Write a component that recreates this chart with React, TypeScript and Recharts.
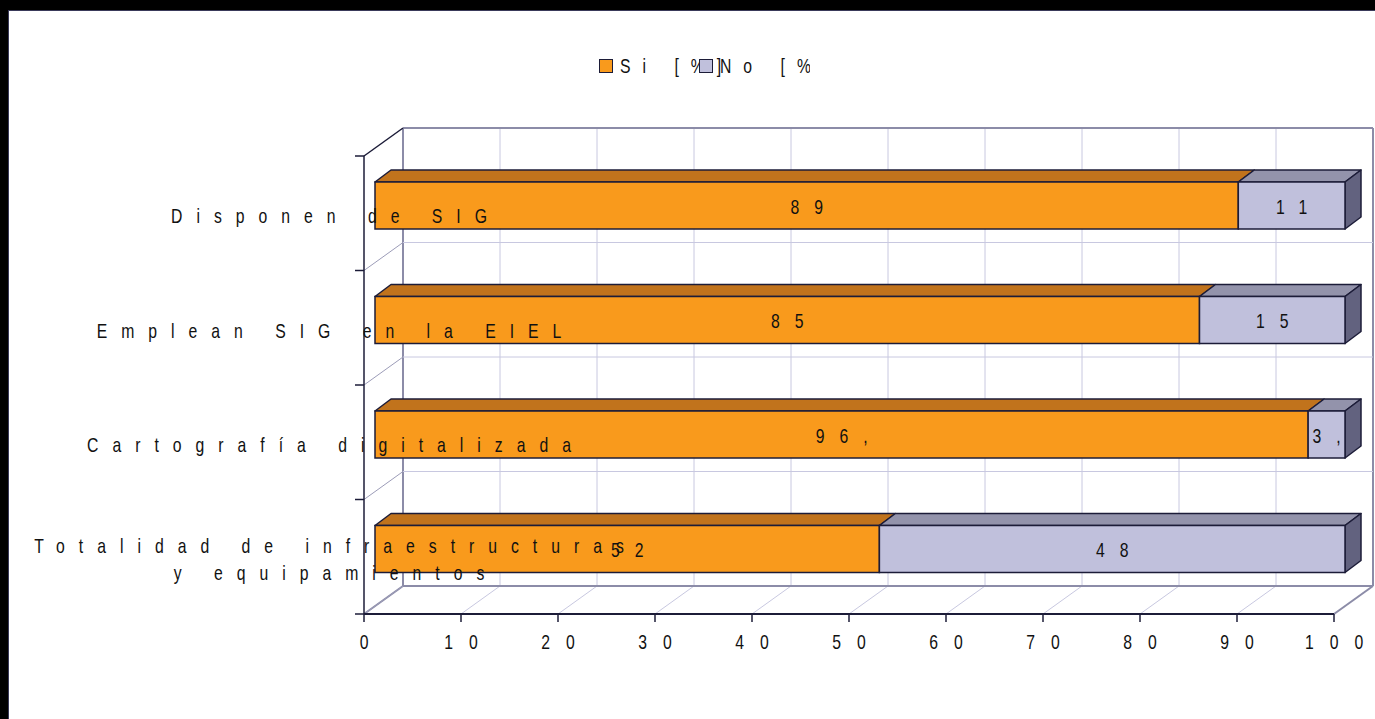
import React from "react";
import { BarChart, Bar, XAxis, YAxis, ReferenceLine, LabelList } from "recharts";

const categories = [
  "Disponen de SIG",
  "Emplean SIG en la EIEL",
  "Cartografía digitalizada",
  "Totalidad de infraestructuras\ny equipamientos",
];
const siValues = [89, 85, 96.2, 52];
const noValues = [11, 15, 3.8, 48];
const siLabels = ["89", "85", "96,", "52"];
const noLabels = ["11", "15", "3,", "48"];
const seriesNames = ["Si [%]", "No [%]"];
const xTicks = [0, 10, 20, 30, 40, 50, 60, 70, 80, 90, 100];

const data = categories.map((cat, i) => ({
  cat,
  si: siValues[i],
  no: noValues[i],
  siLabel: siLabels[i],
  noLabel: noLabels[i],
}));

// band edges of the category axis: start of every row + end of the last one
const rowEdges = [
  ...categories.map((c) => ({ cat: c, pos: "start" })),
  { cat: categories[categories.length - 1], pos: "end" },
];

const FONT = "'Liberation Sans', Arial, sans-serif";
const SX = 0.75; // narrow the glyphs
const WALL_DX = 39;
const WALL_DY = -28;
const BAR_DX = 11;
const BAR_DY = -8;
const DEPTH_DX = 16;
const DEPTH_DY = -12;
const EDGE = "#1c1c38";

const SI = { front: "#f99a1c", top: "#c1731c", side: "#9a5a10" };
const NO = { front: "#c0c0dc", top: "#9393ab", side: "#62627f" };

function SpacedText({ x, y, text, size = 21, spacing = 15 }: any) {
  return (
    <text
      transform={`translate(${x + spacing / 2},${y}) scale(${SX},1)`}
      x={0}
      y={0}
      textAnchor="middle"
      fontFamily={FONT}
      fontSize={size}
      fill="#111"
      style={{ letterSpacing: spacing / SX }}
    >
      {text}
    </text>
  );
}

function make3DShape(colors: any, withSide: boolean) {
  return (props: any) => {
    const { x, y, width, height } = props;
    if (width == null || height == null) return null;
    const fx = x + BAR_DX;
    const fy = y + BAR_DY;
    const top = `${fx},${fy} ${fx + DEPTH_DX},${fy + DEPTH_DY} ${fx + width + DEPTH_DX},${fy + DEPTH_DY} ${fx + width},${fy}`;
    const side = `${fx + width},${fy} ${fx + width + DEPTH_DX},${fy + DEPTH_DY} ${fx + width + DEPTH_DX},${fy + height + DEPTH_DY} ${fx + width},${fy + height}`;
    return (
      <g>
        <polygon points={top} fill={colors.top} stroke={EDGE} strokeWidth={1.5} strokeLinejoin="round" />
        {withSide && <polygon points={side} fill={colors.side} stroke={EDGE} strokeWidth={1.5} strokeLinejoin="round" />}
        <rect x={fx} y={fy} width={width} height={height} fill={colors.front} stroke={EDGE} strokeWidth={1.5} />
      </g>
    );
  };
}

function BarLabel(props: any) {
  const { x, y, width, height, value } = props;
  return <SpacedText x={x + BAR_DX + width / 2} y={y + BAR_DY + height / 2 + 8} text={value} spacing={15} />;
}

function CategoryTick(props: any) {
  const { x, y, payload } = props;
  const lines = String(payload.value).split("\n");
  const lh = 27;
  return (
    <g>
      {lines.map((ln, i) => (
        <SpacedText key={i} x={x - 27} y={y - ((lines.length - 1) * lh) / 2 + i * lh + 10} text={ln} spacing={14} />
      ))}
    </g>
  );
}

function ValueTick(props: any) {
  const { x, y, payload } = props;
  return <SpacedText x={x} y={y + 25} text={String(payload.value)} spacing={16} />;
}

// vertical grid line on the back wall + diagonal on the floor
function columnShape(v: number) {
  return (p: any) => {
    const { x1 } = p;
    const top = Math.min(p.y1, p.y2);
    const bottom = Math.max(p.y1, p.y2);
    const edge = v === xTicks[0] || v === xTicks[xTicks.length - 1];
    const c = edge ? "#8c8ca8" : "#c8c8e0";
    return (
      <g>
        <line x1={x1 + WALL_DX} y1={top + WALL_DY} x2={x1 + WALL_DX} y2={bottom + WALL_DY} stroke={c} strokeWidth={edge ? 2 : 1} />
        <line x1={x1} y1={bottom} x2={x1 + WALL_DX} y2={bottom + WALL_DY} stroke={c} strokeWidth={edge ? 2 : 1} />
      </g>
    );
  };
}

// horizontal line on the back wall + diagonal on the left wall + tick
function rowShape(k: number) {
  return (p: any) => {
    const left = Math.min(p.x1, p.x2);
    const right = Math.max(p.x1, p.x2);
    const y = p.y1;
    const edge = k === 0 || k === rowEdges.length - 1;
    const c = edge ? "#8c8ca8" : "#c8c8e0";
    return (
      <g>
        <line x1={left + WALL_DX} y1={y + WALL_DY} x2={right + WALL_DX} y2={y + WALL_DY} stroke={c} strokeWidth={edge ? 2 : 1} />
        <line x1={left} y1={y} x2={left + WALL_DX} y2={y + WALL_DY} stroke={k === 0 ? EDGE : "#9c9cb8"} strokeWidth={k === 0 ? 1.5 : 1} />
        <line x1={left - 9} y1={y} x2={left} y2={y} stroke={EDGE} strokeWidth={1.5} />
      </g>
    );
  };
}

function LegendBox() {
  const colors = [SI.front, NO.front];
  return (
    <div style={{ position: "absolute", top: 55, left: 599, height: 22, fontFamily: FONT, fontSize: 21 }}>
      {seriesNames.map((n, i) => (
        <div
          key={n}
          style={{
            position: "absolute",
            left: i * 100,
            top: 0,
            width: i === 0 ? 140 : 111,
            height: 24,
            overflow: "hidden",
            whiteSpace: "nowrap",
            zIndex: i,
          }}
        >
          <span style={{ position: "absolute", left: 0, top: 4, width: 12, height: 12, background: colors[i], border: `1.5px solid ${EDGE}`, zIndex: 2 }} />
          <span
            style={{
              position: "absolute",
              left: 21,
              top: 0,
              lineHeight: "22px",
              letterSpacing: 12 / SX,
              color: "#111",
              transform: `scaleX(${SX})`,
              transformOrigin: "left center",
            }}
          >
            {n}
          </span>
        </div>
      ))}
    </div>
  );
}

export default function App() {
  return (
    <div style={{ position: "relative", width: 1375, height: 719, background: "#000", overflow: "hidden" }}>
      <style>{`body{margin:0}`}</style>
      <div style={{ position: "absolute", left: 8, top: 10, width: 1367, height: 709, background: "#fff", borderTop: "1px solid #3a3a5a", borderLeft: "1px solid #3a3a5a", boxSizing: "border-box" }} />
      <div style={{ position: "absolute", left: 0, top: 0 }}>
        <BarChart
          width={1375}
          height={719}
          data={data}
          layout="vertical"
          margin={{ top: 156, right: 41, left: 0, bottom: 75 }}
          barSize={47}
        >
          <XAxis
            type="number"
            domain={[0, 100]}
            ticks={xTicks}
            interval={0}
            height={30}
            tick={ValueTick}
            tickSize={8}
            axisLine={{ stroke: EDGE, strokeWidth: 2 }}
            tickLine={{ stroke: EDGE, strokeWidth: 1.5 }}
          />
          <YAxis
            type="category"
            dataKey="cat"
            width={364}
            tick={CategoryTick}
            tickLine={false}
            axisLine={{ stroke: EDGE, strokeWidth: 1.5 }}
            interval={0}
          />
          {xTicks.map((v) => (
            <ReferenceLine key={`c${v}`} x={v} shape={columnShape(v)} zIndex={-10} />
          ))}
          {rowEdges.map((r, k) => (
            <ReferenceLine key={`r${k}`} y={r.cat} position={r.pos as any} shape={rowShape(k)} zIndex={-10} />
          ))}
          <Bar dataKey="si" stackId="a" name={seriesNames[0]} isAnimationActive={false} shape={make3DShape(SI, false)}>
            <LabelList dataKey="siLabel" content={BarLabel} />
          </Bar>
          <Bar dataKey="no" stackId="a" name={seriesNames[1]} isAnimationActive={false} shape={make3DShape(NO, true)}>
            <LabelList dataKey="noLabel" content={BarLabel} />
          </Bar>
        </BarChart>
      </div>
      <LegendBox />
    </div>
  );
}
